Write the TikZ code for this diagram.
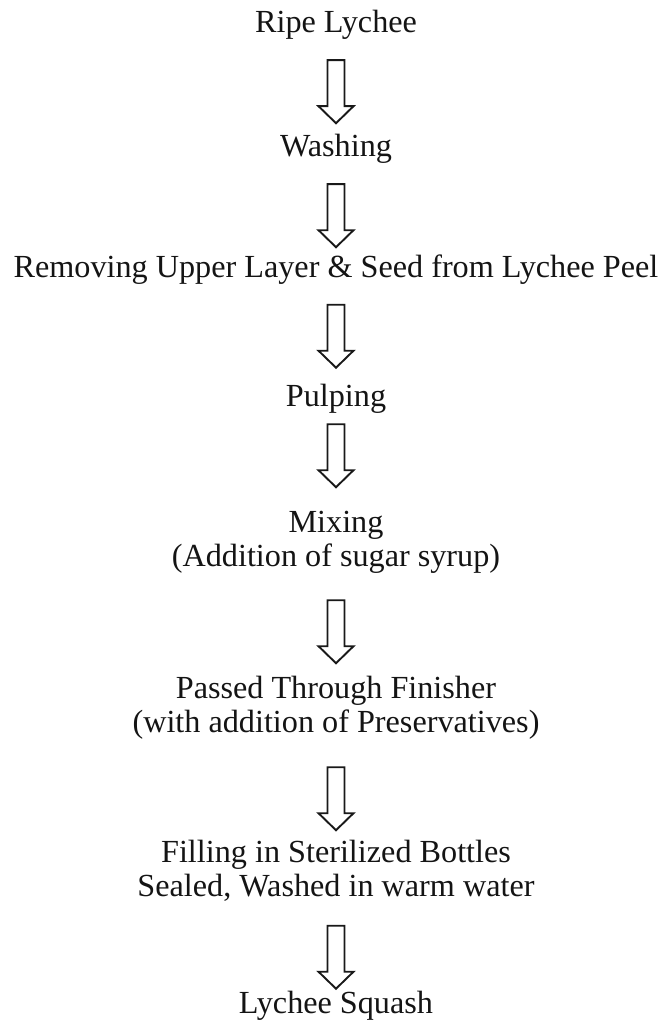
\documentclass[tikz,border=0pt]{standalone}
\usepackage{fontspec}
\setmainfont{Liberation Serif}
\usetikzlibrary{calc}
\tikzset{
  stage/.style={inner sep=0pt, outer sep=0pt, align=center, anchor=north, text=black!92,
    font=\fontsize{32.2}{34}\selectfont},
  blk/.style={draw=black!90, line width=1.9pt, line join=miter, fill=white}
}
% block arrow between two nodes; #1 = vertical shift of the arrow (downwards)
\newcommand\blockarrow[3][0]{%
  \draw[blk] ($(#2.south)!0.5!(#3.north)$) ++(-8.5,{-32+#1}) -- ++(17,0) -- ++(0,46) -- ++(9,0)
    -- ++(-17.5,17) -- ++(-17.5,-17) -- ++(9,0) -- cycle;}
\begin{document}
\begin{tikzpicture}[x=1pt,y=-1pt]
\useasboundingbox (0,0) rectangle (665,1035);
% north = first baseline - 23.8
\node[stage] (n1) at (336,9.2) {\strut Ripe Lychee};
\node[stage] (n2) at (336,133.2) {\strut Washing};
\node[stage] (n3) at (336,253.2) {\strut Removing Upper Layer \& Seed from Lychee Peel};
\node[stage] (n4) at (336,382.2) {\strut Pulping};
\node[stage] (n5) at (336,508.2) {\strut Mixing\\\strut (Addition of sugar syrup)};
\node[stage] (n6) at (336,674.2) {\strut Passed Through Finisher\\\strut (with addition of Preservatives)};
\node[stage] (n7) at (336,838.2) {\strut Filling in Sterilized Bottles\\\strut Sealed, Washed in warm water};
\node[stage] (n8) at (336,989.2) {\strut Lychee Squash};
\blockarrow[4]{n1}{n2}
\blockarrow[6]{n2}{n3}
\blockarrow[2]{n3}{n4}
\blockarrow[-6]{n4}{n5}
\blockarrow[7]{n5}{n6}
\blockarrow[9]{n6}{n7}
\blockarrow[10]{n7}{n8}
\end{tikzpicture}
\end{document}
